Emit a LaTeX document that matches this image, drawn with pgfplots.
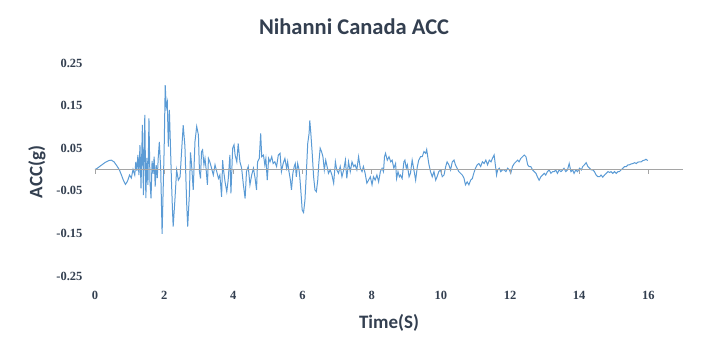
\documentclass[border=0pt]{standalone}
\usepackage{pgfplots}
\pgfplotsset{compat=1.18}
\usepackage{fontspec}
\setmainfont{Carlito}
\newfontfamily\tickfont{Liberation Serif}
\definecolor{sig}{HTML}{5B9BD5}
\definecolor{ttl}{HTML}{333F50}
\definecolor{axg}{HTML}{A5A5A5}
\begin{document}
\begin{tikzpicture}[x=1pt,y=1pt]
\path[use as bounding box] (0,0) rectangle (707,354);
\begin{axis}[
  at={(95pt,78pt)}, anchor=south west,
  scale only axis, width=588pt, height=213pt,
  xmin=0, xmax=17, ymin=-0.25, ymax=0.25,
  axis line style={draw=none},
  axis x line*=bottom, axis y line*=left,
  major tick length=0pt,
  xtick={0,2,...,16}, ytick={-0.25,-0.15,-0.05,0.05,0.15,0.25},
  xticklabels={0,2,4,6,8,10,12,14,16},
  yticklabels={-0.25,-0.15,-0.05,0.05,0.15,0.25},
  ticklabel style={font=\tickfont\bfseries\fontsize{12.5}{14}\selectfont, text=ttl},
  xticklabel style={anchor=center, yshift=-19pt},
  yticklabel style={anchor=east, xshift=-9pt},
  clip=false,
]
\addplot[sig, line width=1pt, mark=none] coordinates {
(0,0) (0.05,0.002) (0.1,0.005) (0.2,0.011) (0.3,0.017) (0.4,0.021) (0.47,0.022) (0.55,0.018) (0.62,0.01) (0.7,0.0) (0.76,-0.012) (0.82,-0.025) (0.88,-0.035) (0.92,-0.03) (0.95,-0.025)
(1.00,-0.013) (1.05,-0.02) (1.10,0.0) (1.15,-0.013) (1.18,0.018) (1.21,-0.003) (1.24,0.034) (1.27,-0.013) (1.30,0.057) (1.33,-0.044)
(1.37,0.105) (1.40,-0.06) (1.44,0.128) (1.47,-0.067) (1.50,0.027) (1.53,-0.036) (1.56,0.12) (1.59,-0.03) (1.62,-0.068) (1.65,0.02)
(1.68,-0.01) (1.71,0.03) (1.74,-0.04) (1.77,0.01) (1.80,-0.02) (1.83,0.03) (1.86,0.065) (1.90,0.0) (1.94,-0.151) (1.97,-0.05)
(2.00,0.05) (2.03,0.198) (2.06,0.147) (2.09,0.159) (2.12,0.054) (2.15,0.14) (2.18,0.06) (2.21,-0.025) (2.24,-0.095) (2.26,-0.134)
(2.31,-0.072) (2.36,-0.001) (2.41,-0.025) (2.46,-0.017) (2.50,0.038) (2.55,0.104) (2.60,0.054) (2.65,-0.079) (2.68,-0.134) (2.73,-0.056)
(2.76,0.04) (2.79,0.014) (2.84,-0.048) (2.89,0.065) (2.94,0.101) (2.99,0.081) (3.02,-0.005)
(3.05,-0.021) (3.08,0.042) (3.11,0.046) (3.15,0.011) (3.18,0.026) (3.21,0.003) (3.25,-0.036) (3.28,0.026) (3.32,0.018) (3.37,0.003)
(3.42,-0.013) (3.47,0.011) (3.52,-0.005) (3.57,-0.021) (3.61,-0.013) (3.66,-0.064) (3.69,0.022) (3.71,0.003) (3.76,-0.029) (3.81,-0.052)
(3.85,-0.025) (3.90,0.034) (3.93,-0.056) (3.98,0.05) (4.02,0.058) (4.05,0.034) (4.10,0.018) (4.14,0.061) (4.19,0.018) (4.24,0.003)
(4.29,-0.036) (4.34,-0.068) (4.38,-0.005) (4.43,0.007) (4.48,-0.036) (4.53,-0.013) (4.58,0.003) (4.63,-0.021) (4.67,-0.048) (4.70,0.018)
(4.75,0.026) (4.79,0.085) (4.82,0.03) (4.87,0.034) (4.91,0.011) (4.94,0.026) (4.98,-0.025) (5.02,0.026) (5.06,0.018) (5.11,0.03)
(5.15,0.014) (5.20,0.018) (5.25,0.007) (5.30,0.034) (5.35,0.038) (5.39,-0.005) (5.44,0.014) (5.49,0.026) (5.54,0.003) (5.57,0.018)
(5.60,-0.001) (5.65,-0.025) (5.68,-0.048) (5.72,-0.009) (5.76,0.007) (5.79,0.014) (5.82,-0.017) (5.86,0.014) (5.90,-0.001) (5.92,-0.017)
(5.95,-0.048) (5.99,-0.095) (6.03,-0.101) (6.07,-0.072) (6.11,-0.009) (6.15,0.061) (6.19,0.085) (6.21,0.115) (6.24,0.085) (6.28,0.038)
(6.32,-0.017) (6.36,-0.048) (6.40,-0.052) (6.44,-0.025) (6.47,0.014) (6.51,0.05) (6.55,0.042) (6.59,0.03) (6.63,-0.001) (6.67,0.022)
(6.71,0.007) (6.75,-0.009) (6.80,-0.001) (6.85,-0.013) (6.90,-0.032) (6.95,0.018) (6.99,-0.001) (7.04,-0.009) (7.09,0.007) (7.14,-0.017)
(7.19,-0.001) (7.24,0.022) (7.28,-0.021) (7.33,0.018) (7.38,-0.005) (7.43,0.018) (7.48,0.007) (7.52,0.011) (7.57,-0.001) (7.62,0.03)
(7.67,0.003) (7.72,-0.005) (7.76,0.007) (7.81,-0.009) (7.86,-0.032) (7.91,-0.025) (7.96,-0.017) (8.01,-0.036) (8.05,-0.017) (8.10,-0.025)
(8.15,-0.013) (8.20,-0.029) (8.25,-0.005) (8.30,0.003) (8.34,-0.005)
(8.37,0.03) (8.40,0.038) (8.45,0.022) (8.50,0.03) (8.55,0.018) (8.59,0.022) (8.64,0.003) (8.69,0.014) (8.72,-0.021) (8.76,-0.005)
(8.80,-0.017) (8.83,-0.013) (8.88,-0.021) (8.93,0.018) (8.96,0.022) (9.00,0.003) (9.03,0.011) (9.08,-0.017) (9.12,-0.009) (9.17,0.022)
(9.22,-0.001) (9.27,-0.025) (9.32,0.007) (9.36,0.022) (9.41,0.03) (9.46,0.03) (9.51,0.042) (9.56,0.038) (9.59,0.047) (9.62,0.03)
(9.65,0.014) (9.70,-0.005) (9.75,-0.017) (9.80,-0.005) (9.85,-0.025) (9.89,-0.017) (9.94,-0.005) (9.99,-0.001) (10.04,-0.017) (10.09,-0.013)
(10.14,0.007) (10.18,0.018) (10.23,0.011) (10.28,-0.001) (10.33,0.018) (10.38,0.022) (10.42,0.011) (10.47,0.003) (10.52,-0.005) (10.57,-0.009)
(10.62,-0.013) (10.67,-0.021) (10.71,-0.036) (10.76,-0.029) (10.81,-0.036) (10.86,-0.025) (10.91,-0.021) (10.95,-0.009) (11.00,0.003) (11.05,0.011)
(11.10,0.014) (11.15,0.007)
(11.20,0.018) (11.25,0.014) (11.30,0.022) (11.35,0.011) (11.40,0.022) (11.45,0.018) (11.49,0.026) (11.54,0.034) (11.57,0.014) (11.61,-0.013)
(11.64,-0.001) (11.69,0.003) (11.73,-0.005) (11.78,-0.001) (11.83,-0.001) (11.88,-0.005) (11.93,0.003) (11.98,-0.001) (12.02,-0.009) (12.07,0.007)
(12.12,0.014) (12.17,0.018) (12.22,0.022) (12.26,0.018) (12.31,0.026) (12.36,0.03) (12.41,0.034) (12.46,0.03) (12.51,0.011) (12.55,0.007)
(12.60,0.007) (12.65,-0.001) (12.70,-0.005) (12.75,-0.009) (12.79,-0.017) (12.84,-0.025) (12.89,-0.017) (12.94,-0.013) (12.99,-0.009) (13.03,-0.013)
(13.08,-0.005) (13.13,-0.001) (13.18,-0.009) (13.23,-0.005) (13.28,-0.005) (13.32,-0.001) (13.37,-0.009) (13.42,-0.001) (13.47,-0.005) (13.52,-0.001)
(13.56,0.003) (13.61,-0.005) (13.66,-0.001) (13.71,0.014) (13.76,-0.005) (13.81,-0.001) (13.85,-0.009) (13.90,-0.001) (13.95,-0.005)
(14.01,0.003) (14.06,-0.001) (14.10,0.007) (14.15,0.011) (14.20,0.016) (14.25,0.007) (14.30,0.003) (14.35,-0.001) (14.39,-0.001) (14.44,-0.005)
(14.49,-0.013) (14.54,-0.017) (14.59,-0.017) (14.63,-0.013) (14.68,-0.018) (14.73,-0.013) (14.78,-0.009) (14.83,-0.005) (14.88,-0.007) (14.92,-0.005)
(14.97,-0.009) (15.02,-0.005) (15.07,-0.009) (15.12,-0.005) (15.16,-0.005) (15.21,-0.001) (15.26,0.003) (15.31,0.007) (15.36,0.007) (15.41,0.011)
(15.45,0.011) (15.50,0.013) (15.55,0.014) (15.60,0.016) (15.65,0.014) (15.69,0.017) (15.74,0.018) (15.79,0.018) (15.84,0.021) (15.89,0.022)
(15.93,0.024) (15.98,0.021)
};
\draw[axg, line width=0.75pt] (axis cs:0,0) -- (axis cs:17,0);
\pgfplotsinvokeforeach{0,2,4,6,8,10,12,14,16}{\draw[axg, line width=0.75pt] (axis cs:#1,0) -- ++(0pt,-4pt);}
\end{axis}
\node[font=\bfseries\fontsize{22.5}{25}\selectfont, text=ttl] at (354,327) {Nihanni Canada ACC};
\node[font=\bfseries\fontsize{19}{22}\selectfont, text=ttl, rotate=90] at (37,182) {ACC(g)};
\node[font=\bfseries\fontsize{19}{22}\selectfont, text=ttl] at (389,31) {Time(S)};
\end{tikzpicture}
\end{document}
